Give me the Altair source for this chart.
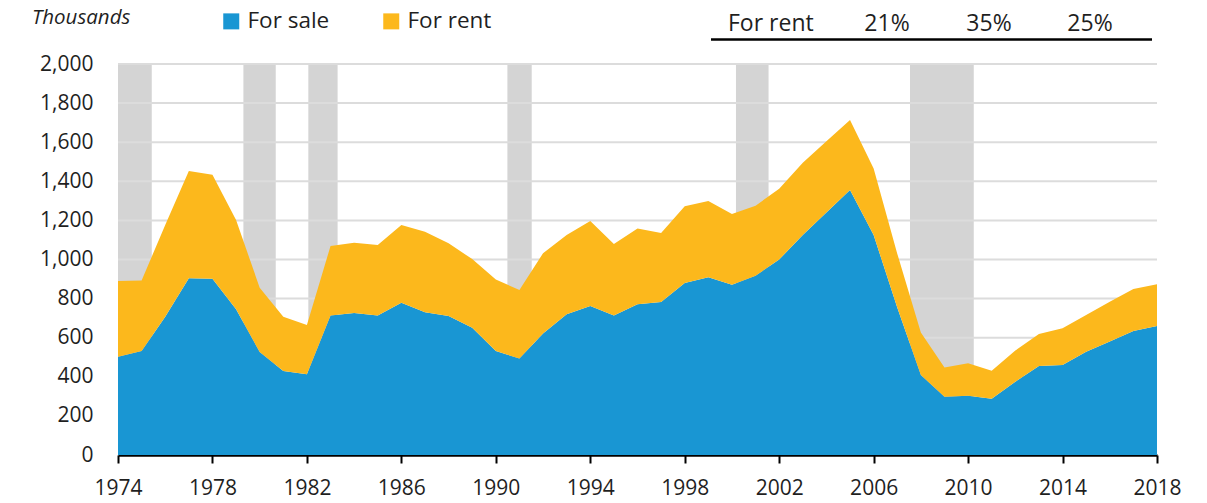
import altair as alt
import pandas as pd

years = list(range(1974, 2019))
for_sale = [503, 532, 707, 904, 902, 745, 527, 430, 413, 713, 726, 713, 779,
            730, 711, 651, 532, 493, 622, 720, 762, 713, 771, 783, 880, 909,
            871, 917, 1000, 1125, 1240, 1356, 1125, 755, 409, 298, 303, 288,
            375, 455, 460, 528, 580, 634, 660]
for_rent = [387, 361, 469, 549, 532, 457, 329, 277, 252, 356, 360, 361, 397,
            412, 372, 351, 366, 351, 410, 405, 435, 366, 388, 352, 392, 390,
            362, 358, 362, 370, 365, 358, 341, 275, 217, 149, 166, 143,
            159, 164, 188, 188, 204, 215, 213]

series = ["For sale", "For rent"]
colors = ["#1996d3", "#fcb81c"]

rec_start = [1974.0, 1979.31, 1982.06, 1990.49, 2000.17, 2007.54]
rec_end = [1975.43, 1980.68, 1983.30, 1991.52, 2001.55, 2010.24]

y_ticks = list(range(0, 2001, 200))
x_ticks = list(range(1974, 2019, 4))

table_rows = ["For sale", "For rent"]
table_sale = ["79%", "65%", "75%"]
table_rent = ["21%", "35%", "25%"]

FONT = "Open Sans"
TXT = "#1f1f1f"
W, H = 1039, 391

rows = []
for i, y in enumerate(years):
    rows.append({"year": y, "type": series[0], "value": for_sale[i], "ord": 0})
    rows.append({"year": y, "type": series[1], "value": for_rent[i], "ord": 1})
df = pd.DataFrame(rows)

xscale = alt.Scale(domain=[1974, 2018], nice=False, zero=False)
yscale = alt.Scale(domain=[0, 2000], nice=False)

xaxis = alt.Axis(
    values=x_ticks, format="d", title=None, grid=False,
    domainColor="black", domainWidth=2.5, tickColor="black",
    tickWidth=2, tickSize=8, labelPadding=14, labelFontSize=21,
    labelFont=FONT, labelColor=TXT, labelFlush=False,
)
yaxis = alt.Axis(
    values=y_ticks, format=",.0f", title=None, grid=False, domain=False,
    ticks=False, labelPadding=25, labelFontSize=21, labelFont=FONT,
    labelColor=TXT,
)

bands = alt.Chart(pd.DataFrame({"s": rec_start, "e": rec_end})).mark_rect(
    color="#d4d4d4"
).encode(
    x=alt.X("s:Q", scale=xscale, axis=xaxis),
    x2="e:Q",
    y=alt.value(0),
    y2=alt.value(H),
)

grid = alt.Chart(pd.DataFrame({"v": y_ticks[1:]})).mark_rule(
    color="#dcdcdc", strokeWidth=2
).encode(y=alt.Y("v:Q", scale=yscale, axis=yaxis))

areas = alt.Chart(df).mark_area(interpolate="linear").encode(
    x=alt.X("year:Q", scale=xscale, axis=xaxis),
    y=alt.Y("value:Q", stack="zero", scale=yscale, axis=yaxis),
    color=alt.Color(
        "type:N",
        scale=alt.Scale(domain=series, range=colors),
        sort=series,
        legend=alt.Legend(
            title=None, orient="none", direction="horizontal",
            legendX=102, legendY=-54, symbolType="square", symbolSize=256,
            symbolStrokeWidth=0, symbolOpacity=1, labelFontSize=22.5,
            labelFont=FONT, labelColor=TXT, labelOffset=5, columnPadding=50,
            padding=0, labelLimit=300,
        ),
    ),
    order=alt.Order("ord:Q", sort="ascending"),
)

layers = [bands, grid, areas]

one = alt.Chart(pd.DataFrame({"a": [0]}))

layers.append(
    one.mark_text(
        text="Thousands", font=FONT, fontSize=20.5, fontStyle="italic",
        align="left", baseline="middle", color=TXT,
    ).encode(x=alt.value(-86), y=alt.value(-46.5))
)

row_y = [-68, -40.5]
col_x = [769, 871, 972]
for r, (label, vals) in enumerate(zip(table_rows, [table_sale, table_rent])):
    layers.append(
        one.mark_text(
            text=label, font=FONT, fontSize=23, align="left",
            baseline="middle", color=TXT,
        ).encode(x=alt.value(610), y=alt.value(row_y[r]))
    )
    for c, v in enumerate(vals):
        layers.append(
            one.mark_text(
                text=v, font=FONT, fontSize=23, align="center",
                baseline="middle", color=TXT,
            ).encode(x=alt.value(col_x[c]), y=alt.value(row_y[r]))
        )

layers.append(
    one.mark_rule(color="black", strokeWidth=2.5).encode(
        x=alt.value(593), x2=alt.value(1034), y=alt.value(-24.5)
    )
)

chart = alt.layer(*layers).properties(
    width=W,
    height=H,
    autosize=alt.AutoSizeParams(type="none"),
    padding={"left": 110, "top": 56, "right": 34, "bottom": 46},
    background="white",
).configure_view(stroke=None)

chart.save("out.html", embed_options={"renderer": "svg", "actions": False})
